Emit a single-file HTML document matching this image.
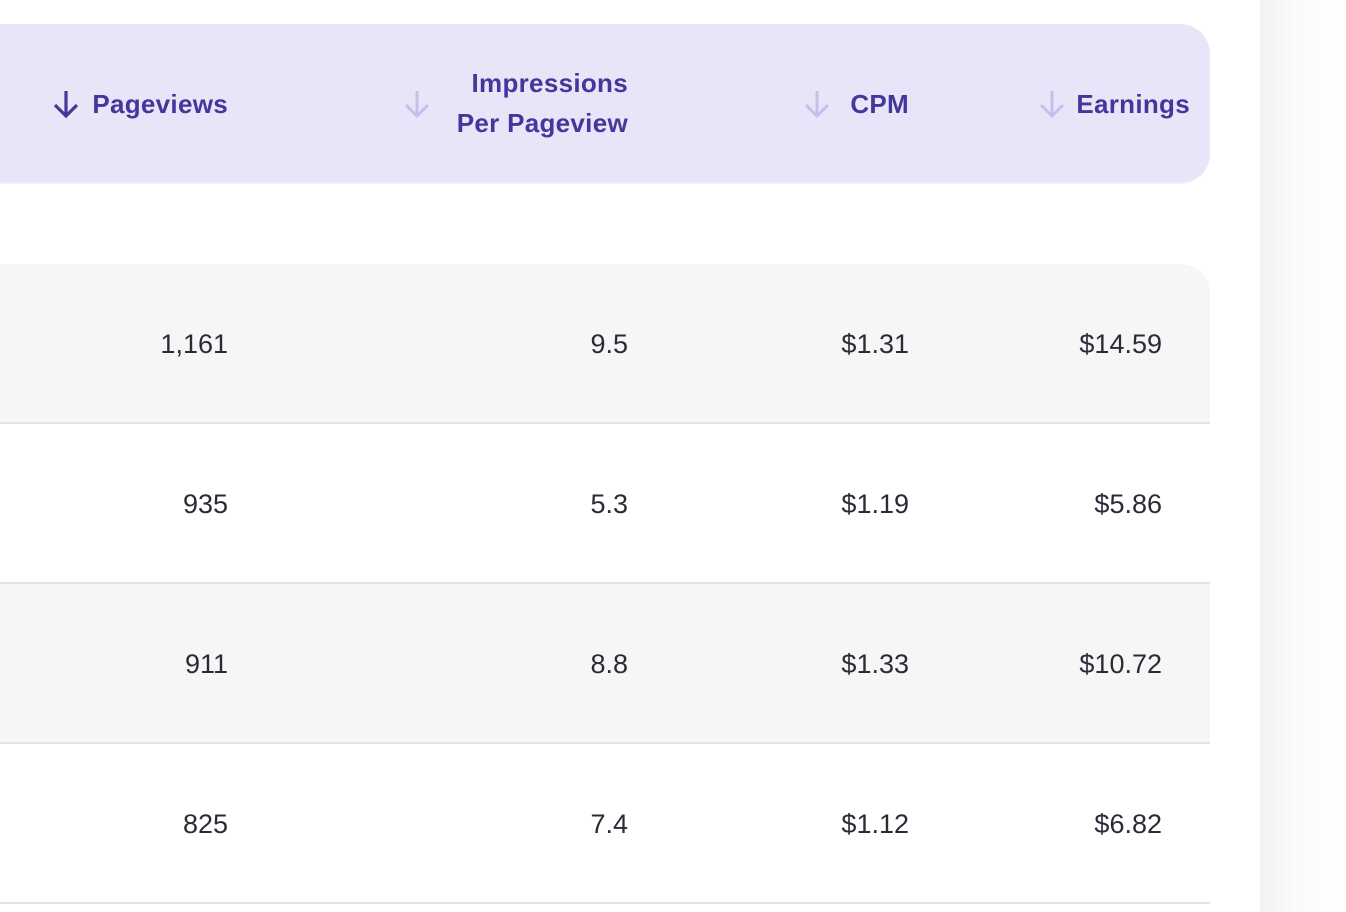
<!DOCTYPE html>
<html><head><style>
body{margin:0;width:1346px;height:912px;background:#fff;position:relative;overflow:hidden;font-family:"Liberation Sans",sans-serif;}
.a{position:absolute}
.h{color:#43379b;font-weight:bold;font-size:26px;line-height:40px;text-align:right;letter-spacing:0.3px}
.v{color:#2b2b36;font-size:27px;line-height:30px;text-align:right}
.ln{position:absolute;left:0;width:1210px;height:2px;background:#e3e3e6}
</style></head><body>
<div class="a" style="left:1260px;top:0;width:86px;height:912px;background:linear-gradient(to right,#f1f1f1,#fbfbfb 40px,#fff)"></div>
<div class="a" style="left:-40px;top:24px;width:1250px;height:158px;background:#e8e5f9;border-radius:0 30px 30px 0;border-bottom:2px solid #efeefa"></div>
<div class="a" style="left:-40px;top:264px;width:1250px;height:159px;background:#f6f6f6;border-radius:0 30px 0 0"></div>
<div class="a" style="left:-40px;top:584px;width:1250px;height:159px;background:#f6f6f6"></div>
<div class="ln" style="top:422px"></div>
<div class="ln" style="top:582px"></div>
<div class="ln" style="top:742px"></div>
<div class="ln" style="top:902px"></div>

<svg class="a" style="left:50px;top:88px" width="32" height="32" viewBox="0 0 32 32"><path d="M16 3V28M5 17L16 28L27 17" stroke="#43379b" stroke-width="3.2" fill="none"/></svg>
<svg class="a" style="left:401px;top:88px" width="32" height="32" viewBox="0 0 32 32"><path d="M16 3V28M5 17L16 28L27 17" stroke="#c6bfe9" stroke-width="3" fill="none"/></svg>
<svg class="a" style="left:801px;top:88px" width="32" height="32" viewBox="0 0 32 32"><path d="M16 3V28M5 17L16 28L27 17" stroke="#c6bfe9" stroke-width="3" fill="none"/></svg>
<svg class="a" style="left:1036px;top:88px" width="32" height="32" viewBox="0 0 32 32"><path d="M16 3V28M5 17L16 28L27 17" stroke="#c6bfe9" stroke-width="3" fill="none"/></svg>

<div class="a h" style="left:80px;width:148px;top:84px">Pageviews</div>
<div class="a h" style="left:420px;width:208px;top:63px">Impressions<br>Per Pageview</div>
<div class="a h" style="left:820px;width:89px;top:84px">CPM</div>
<div class="a h" style="left:1060px;width:130px;top:84px">Earnings</div>

<div class="a v" style="left:100px;width:128px;top:329px">1,161</div>
<div class="a v" style="left:500px;width:128px;top:329px">9.5</div>
<div class="a v" style="left:780px;width:129px;top:329px">$1.31</div>
<div class="a v" style="left:1030px;width:132px;top:329px">$14.59</div>

<div class="a v" style="left:100px;width:128px;top:489px">935</div>
<div class="a v" style="left:500px;width:128px;top:489px">5.3</div>
<div class="a v" style="left:780px;width:129px;top:489px">$1.19</div>
<div class="a v" style="left:1030px;width:132px;top:489px">$5.86</div>

<div class="a v" style="left:100px;width:128px;top:649px">911</div>
<div class="a v" style="left:500px;width:128px;top:649px">8.8</div>
<div class="a v" style="left:780px;width:129px;top:649px">$1.33</div>
<div class="a v" style="left:1030px;width:132px;top:649px">$10.72</div>

<div class="a v" style="left:100px;width:128px;top:809px">825</div>
<div class="a v" style="left:500px;width:128px;top:809px">7.4</div>
<div class="a v" style="left:780px;width:129px;top:809px">$1.12</div>
<div class="a v" style="left:1030px;width:132px;top:809px">$6.82</div>
</body></html>
